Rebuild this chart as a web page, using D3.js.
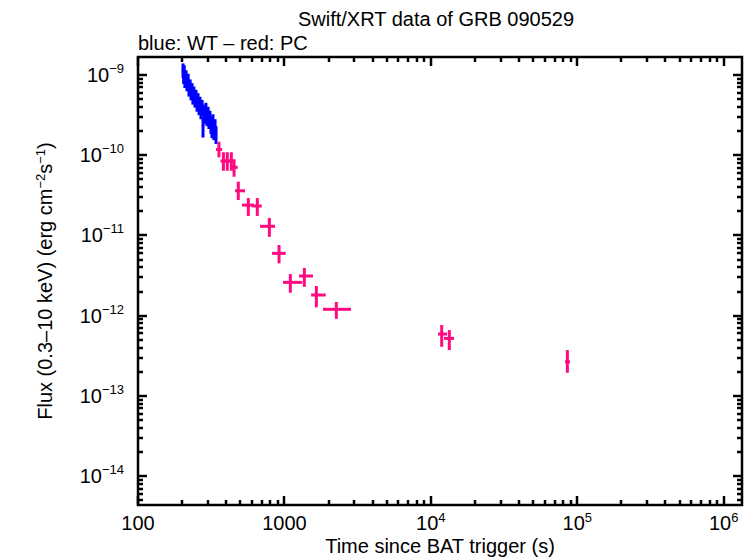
<!DOCTYPE html>
<html><head><meta charset="utf-8">
<script src="https://cdn.jsdelivr.net/npm/d3@7"></script>
<style>body{margin:0;background:#fff}svg{display:block}text{font-family:"Liberation Sans",Arial,Helvetica,sans-serif;fill:#000}</style>
</head><body>
<svg id="c" width="751" height="558"></svg>
<script>
// ---- data ----
const title = "Swift/XRT data of GRB 090529";
const subtitle = "blue: WT \u2013 red: PC";
const xTickValues = [100, 1000, 1e4, 1e5, 1e6];
const xTickLabels = [["100",""],["1000",""],["10","4"],["10","5"],["10","6"]];
const yTickValues = [1e-9, 1e-10, 1e-11, 1e-12, 1e-13, 1e-14];
const yTickLabels = [["10","\u22129"],["10","\u221210"],["10","\u221211"],["10","\u221212"],["10","\u221213"],["10","\u221214"]];

// WT mode (blue): time (s), time half-width (s), flux, flux error
const wtTime = [203,205,207,209,213,216,220,223,227,230,234,237,241,245,249,253,257,261,265,269,274,278,282,287,291,296,301,305,310,315,320,325,330,336,341];
const wtTimeErr = [4,4,4,4,4,4,4,4,4,4,5,5,5,5,5,5,5,5,5,5,5,5,5,5,5,6,6,6,6,6,6,6,6,6,6];
const wtFlux = [1.154e-9,9.72e-10,1.09e-9,8.66e-10,9.44e-10,7.95e-10,8.66e-10,6.88e-10,7.29e-10,6.14e-10,6.50e-10,5.47e-10,5.97e-10,5.02e-10,5.32e-10,4.48e-10,4.88e-10,4.11e-10,4.35e-10,3.66e-10,3.99e-10,2.31e-10,3.46e-10,3.17e-10,3.66e-10,2.99e-10,3.26e-10,2.75e-10,2.91e-10,2.45e-10,2.18e-10,2.59e-10,2.06e-10,2.25e-10,1.84e-10];
const wtFluxErr = [2.4e-10,2.0e-10,2.3e-10,1.8e-10,2.0e-10,1.7e-10,1.7e-10,1.5e-10,1.5e-10,1.3e-10,1.4e-10,1.2e-10,1.2e-10,1.1e-10,1.2e-10,1.0e-10,1.05e-10,0.95e-10,1.0e-10,0.85e-10,0.9e-10,0.65e-10,0.8e-10,0.73e-10,0.84e-10,0.69e-10,0.75e-10,0.63e-10,0.67e-10,0.61e-10,0.55e-10,0.65e-10,0.52e-10,0.56e-10,0.46e-10];

// PC mode (red): time, time low, time high, flux, flux low, flux high
const pcTime   = [357, 383, 407, 434, 453, 484, 567, 653, 789, 919, 1097, 1368, 1652, 2262, 11860, 13370, 85550];
const pcTimeLo = [341, 366, 390, 416, 430, 460, 513, 598, 681, 823, 978, 1259, 1520, 1835, 11190, 12300, 82600];
const pcTimeHi = [375, 398, 424, 452, 480, 538, 620, 700, 862, 1021, 1325, 1568, 1915, 2851, 12900, 14400, 89300];
const pcFlux   = [1.18e-10, 8.47e-11, 8.47e-11, 8.47e-11, 7.06e-11, 3.6e-11, 2.39e-11, 2.33e-11, 1.30e-11, 5.98e-12, 2.60e-12, 3.12e-12, 1.81e-12, 1.20e-12, 5.9e-13, 5.21e-13, 2.66e-13];
const pcFluxLo = [9.4e-11, 6.4e-11, 6.4e-11, 6.4e-11, 5.4e-11, 2.76e-11, 1.75e-11, 1.75e-11, 9.6e-12, 4.49e-12, 1.93e-12, 2.29e-12, 1.27e-12, 9.14e-13, 4.09e-13, 3.72e-13, 1.94e-13];
const pcFluxHi = [1.47e-10, 1.09e-10, 1.09e-10, 1.09e-10, 8.9e-11, 4.68e-11, 2.92e-11, 2.92e-11, 1.65e-11, 7.6e-12, 3.30e-12, 3.93e-12, 2.34e-12, 1.48e-12, 7.64e-13, 6.6e-13, 3.72e-13];

// ---- layout ----
const L = 138, R = 742, T = 57, B = 505;
const svg = d3.select("#c");
const x = d3.scaleLog().domain([100, Math.pow(10, 6.125)]).range([L, R]);
const y = d3.scaleLog().domain([Math.pow(10, -14.36), Math.pow(10, -8.776)]).range([B, T]);
const blue = "#0000ff", red = "#ff0a80";
const FS = 20;

// titles
svg.append("text").attr("x", 436).attr("y", 26).attr("text-anchor", "middle").attr("font-size", FS).text(title);
svg.append("text").attr("x", 138).attr("y", 50).attr("font-size", FS).text(subtitle);

// clip
svg.append("clipPath").attr("id","clip").append("rect").attr("x",L).attr("y",T).attr("width",R-L).attr("height",B-T);
const plot = svg.append("g").attr("clip-path","url(#clip)");

// WT error bars
const wt = wtTime.map((t,i)=>({t, te: wtTimeErr[i], f: wtFlux[i], fe: wtFluxErr[i]}));
const gw = plot.append("g").attr("stroke", blue).attr("stroke-width", 3);
wt.forEach(d=>{
  gw.append("line").attr("x1", x(d.t)).attr("x2", x(d.t)).attr("y1", y(d.f - d.fe)).attr("y2", y(d.f + d.fe));
  gw.append("line").attr("x1", x(d.t - d.te)).attr("x2", x(d.t + d.te)).attr("y1", y(d.f)).attr("y2", y(d.f));
});

// PC error bars
const pc = pcTime.map((t,i)=>({t, tl: pcTimeLo[i], th: pcTimeHi[i], f: pcFlux[i], fl: pcFluxLo[i], fh: pcFluxHi[i]}));
const gp = plot.append("g").attr("stroke", red).attr("stroke-width", 3);
pc.forEach(d=>{
  gp.append("line").attr("x1", x(d.t)).attr("x2", x(d.t)).attr("y1", y(d.fl)).attr("y2", y(d.fh));
  gp.append("line").attr("x1", x(d.tl)).attr("x2", x(d.th)).attr("y1", y(d.f)).attr("y2", y(d.f));
});

// ticks
const gt = svg.append("g").attr("stroke", "#000").attr("stroke-width", 2.5);
const MAJ = 9, MIN = 5;
function xTicks(){
  const out=[];
  for(let e=2;e<=6;e++){ for(let m=1;m<=9;m++){ const v=m*Math.pow(10,e); if(v>=100 && v<=x.domain()[1]) out.push([v,m===1]); } }
  return out;
}
function yTicks(){
  const out=[];
  for(let e=-15;e<=-9;e++){ for(let m=1;m<=9;m++){ const v=m*Math.pow(10,e); if(v>=y.domain()[0] && v<=y.domain()[1]) out.push([v,m===1]); } }
  return out;
}
xTicks().forEach(([v,maj])=>{
  const px = Math.round(x(v));
  const len = maj?MAJ:MIN;
  gt.append("line").attr("x1",px).attr("x2",px).attr("y1",B).attr("y2",B-len);
  gt.append("line").attr("x1",px).attr("x2",px).attr("y1",T).attr("y2",T+len);
});
yTicks().forEach(([v,maj])=>{
  const py = Math.round(y(v));
  const len = maj?MAJ:MIN;
  gt.append("line").attr("x1",L).attr("x2",L+len).attr("y1",py).attr("y2",py);
  gt.append("line").attr("x1",R).attr("x2",R-len).attr("y1",py).attr("y2",py);
});

// frame
svg.append("rect").attr("x",L).attr("y",T).attr("width",R-L).attr("height",B-T).attr("fill","none").attr("stroke","#000").attr("stroke-width",2.5);

// x tick labels
xTickValues.forEach((v,i)=>{
  const t = svg.append("text").attr("x", x(v)).attr("y", 530).attr("text-anchor","middle").attr("font-size", FS);
  t.append("tspan").text(xTickLabels[i][0]);
  if(xTickLabels[i][1]) t.append("tspan").attr("dy",-8).attr("font-size",13).text(xTickLabels[i][1]);
});
// y tick labels
yTickValues.forEach((v,i)=>{
  const t = svg.append("text").attr("x", 124).attr("y", y(v)+7).attr("text-anchor","end").attr("font-size", FS);
  t.append("tspan").text(yTickLabels[i][0]);
  t.append("tspan").attr("dy",-9).attr("font-size",13).text(yTickLabels[i][1]);
});

// axis labels
svg.append("text").attr("x", 440).attr("y", 553).attr("text-anchor","middle").attr("font-size", FS).text("Time since BAT trigger (s)");
const yl = svg.append("text").attr("transform","translate(52,281) rotate(-90)").attr("text-anchor","middle").attr("font-size", FS);
yl.append("tspan").text("Flux (0.3\u201310 keV) (erg cm");
yl.append("tspan").attr("dy",-7).attr("font-size",13).text("\u22122");
yl.append("tspan").attr("dy",7).text("s");
yl.append("tspan").attr("dy",-7).attr("font-size",13).text("\u22121");
yl.append("tspan").attr("dy",7).text(")");
</script>
</body></html>
